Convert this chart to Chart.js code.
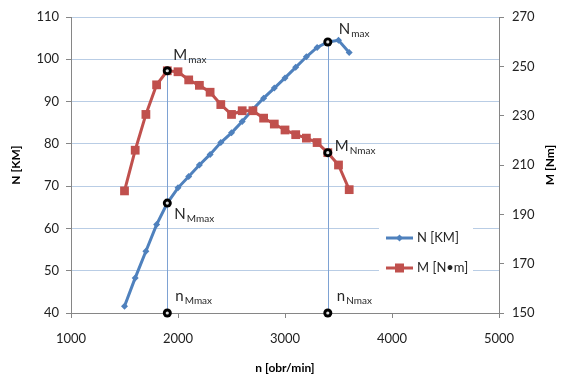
<!DOCTYPE html>
<html>
<head>
<meta charset="utf-8">
<script src="https://cdn.jsdelivr.net/npm/chart.js@4.4.1/dist/chart.umd.min.js"></script>
<style>
    html, body { margin: 0; padding: 0; background: #fff; }
    #wrap { width: 562px; height: 383px; }
</style>
</head>
<body>
<div id="wrap"><canvas id="chart" width="562" height="383"></canvas></div>
<script>
// engine speed [obr/min]
const rpm = [1500, 1600, 1700, 1800, 1900, 2000, 2100, 2200, 2300, 2400, 2500,
             2600, 2700, 2800, 2900, 3000, 3100, 3200, 3300, 3400, 3500, 3600];
// power N [KM]
const powerKM = [41.6, 48.3, 54.6, 60.9, 66.0, 69.6, 72.3, 75.0, 77.5, 80.3, 82.6,
                 85.3, 88.2, 90.8, 93.2, 95.6, 98.1, 100.6, 102.8, 104.1, 104.5, 101.6];
// torque M [Nm]
const torqueNm = [199.5, 216.0, 230.5, 242.5, 248.2, 247.8, 244.5, 242.3, 239.5, 234.5, 230.5,
                  232.0, 232.0, 229.0, 226.6, 224.2, 222.3, 220.9, 219.1, 215.0, 210.0, 200.0];

const xTicks = [1000, 2000, 3000, 4000, 5000];
const nTicks = [40, 50, 60, 70, 80, 90, 100, 110];
const mTicks = [150, 170, 190, 210, 230, 250, 270];

// characteristic speeds
const nMmax = 1900;
const nNmax = 3400;

const BLUE = '#4F81BD';
const RED = '#C0504D';
const AXIS = '#868686';
const GRID = '#B9CDE5';
const FONT = 'Lato';

/**
 * Draws a main letter with a subscript
 */
function subLabel(ctx, main, sub, x, y) {
    ctx.font = '15px ' + FONT;
    ctx.fillText(main, x, y);
    const w = ctx.measureText(main).width;
    ctx.font = '10px ' + FONT;
    ctx.fillText(sub, x + w + 1, y + 3);
}

function ring(ctx, x, y) {
    ctx.beginPath();
    ctx.arc(x, y, 4.5, 0, Math.PI * 2);
    ctx.fillStyle = '#000';
    ctx.fill();
    ctx.beginPath();
    ctx.arc(x, y, 1.6, 0, Math.PI * 2);
    ctx.fillStyle = '#ddd';
    ctx.fill();
}

const annotationPlugin = {
    id: 'annotations',
    beforeDatasetsDraw(chart) {
        const { ctx, chartArea, scales: { x, y, y2 } } = chart;
        const iM = rpm.indexOf(nMmax);
        const iN = rpm.indexOf(nNmax);
        ctx.save();
        ctx.strokeStyle = '#7EA2D3';
        ctx.lineWidth = 1;
        [[nMmax, y2.getPixelForValue(torqueNm[iM])], [nNmax, y.getPixelForValue(powerKM[iN])]].forEach(([n, top]) => {
            const px = Math.round(x.getPixelForValue(n)) + 0.5;
            ctx.beginPath();
            ctx.moveTo(px, chartArea.bottom);
            ctx.lineTo(px, top);
            ctx.stroke();
        });
        ctx.restore();
    },
    afterDatasetsDraw(chart) {
        const { ctx, chartArea, scales: { x, y, y2 } } = chart;
        const iM = rpm.indexOf(nMmax);
        const iN = rpm.indexOf(nNmax);
        const xm = x.getPixelForValue(nMmax);
        const xn = x.getPixelForValue(nNmax);
        const pts = [
            { px: xm, py: y2.getPixelForValue(torqueNm[iM]), main: 'M', sub: 'max', dx: 6, dy: -11 },
            { px: xm, py: y.getPixelForValue(powerKM[iM]), main: 'N', sub: 'Mmax', dx: 7, dy: 16 },
            { px: xm, py: y.getPixelForValue(nTicks[0]), main: 'n', sub: 'Mmax', dx: 8, dy: -12 },
            { px: xn, py: y.getPixelForValue(powerKM[iN]), main: 'N', sub: 'max', dx: 11, dy: -8 },
            { px: xn, py: y2.getPixelForValue(torqueNm[iN]), main: 'M', sub: 'Nmax', dx: 7, dy: -2 },
            { px: xn, py: y.getPixelForValue(nTicks[0]), main: 'n', sub: 'Nmax', dx: 9, dy: -12 }
        ];
        ctx.save();
        pts.forEach(p => ring(ctx, p.px, p.py));
        ctx.textBaseline = 'alphabetic';
        ctx.textAlign = 'left';
        pts.forEach(p => {
            ctx.fillStyle = '#262626';
            subLabel(ctx, p.main, p.sub, p.px + p.dx, p.py + p.dy);
        });

        // legend inside the plot area
        const r = chartArea.right;
        const b = chartArea.bottom;
        ctx.fillStyle = '#fff';
        ctx.fillRect(r - 120, b - 93, 94, 66);
        const entries = [
            { text: 'N [KM]', color: BLUE, ly: b - 75, shape: 'diamond' },
            { text: 'M [N\u2022m]', color: RED, ly: b - 45, shape: 'square' }
        ];
        entries.forEach(e => {
            ctx.strokeStyle = e.color;
            ctx.lineWidth = 3;
            ctx.beginPath();
            ctx.moveTo(r - 113, e.ly);
            ctx.lineTo(r - 86, e.ly);
            ctx.stroke();
            ctx.fillStyle = e.color;
            const cx = r - 99.5;
            if (e.shape === 'square') {
                ctx.fillRect(cx - 4.5, e.ly - 4.5, 9, 9);
            } else {
                ctx.beginPath();
                ctx.moveTo(cx, e.ly - 3.5);
                ctx.lineTo(cx + 3.5, e.ly);
                ctx.lineTo(cx, e.ly + 3.5);
                ctx.lineTo(cx - 3.5, e.ly);
                ctx.closePath();
                ctx.fill();
            }
            ctx.fillStyle = '#262626';
            ctx.font = '13px ' + FONT;
            ctx.textBaseline = 'middle';
            ctx.fillText(e.text, r - 82, e.ly);
        });

        // right axis title, reading bottom to top
        ctx.save();
        ctx.translate(550, (chartArea.top + chartArea.bottom) / 2);
        ctx.rotate(-Math.PI / 2);
        ctx.font = 'bold 12px ' + FONT;
        ctx.fillStyle = '#000';
        ctx.textAlign = 'center';
        ctx.textBaseline = 'middle';
        ctx.fillText('M [Nm]', 0, 0);
        ctx.restore();
        ctx.restore();
    }
};

const ctx = document.getElementById('chart').getContext('2d');

const chart = new Chart(ctx, {
    type: 'line',
    data: {
        datasets: [{
            label: 'N [KM]',
            data: rpm.map((n, i) => ({ x: n, y: powerKM[i] })),
            borderColor: BLUE,
            backgroundColor: BLUE,
            borderWidth: 3,
            pointStyle: 'rectRot',
            pointRadius: 3.5,
            pointBorderWidth: 0,
            yAxisID: 'y',
            order: 1
        }, {
            label: 'M [N\u2022m]',
            data: rpm.map((n, i) => ({ x: n, y: torqueNm[i] })),
            borderColor: RED,
            backgroundColor: RED,
            borderWidth: 3,
            pointStyle: 'rect',
            pointRadius: 6.2,
            pointBorderWidth: 0,
            yAxisID: 'y2',
            order: 0
        }]
    },
    options: {
        responsive: false,
        animation: false,
        layout: {
            padding: { top: 17, left: 0, right: 0, bottom: 0 }
        },
        elements: {
            line: { tension: 0 }
        },
        plugins: {
            legend: { display: false },
            tooltip: { enabled: false }
        },
        scales: {
            x: {
                type: 'linear',
                position: 'bottom',
                min: xTicks[0],
                max: xTicks[xTicks.length - 1],
                afterBuildTicks: scale => { scale.ticks = xTicks.map(v => ({ value: v })); },
                afterFit: scale => { scale.height = 70; },
                grid: {
                    drawOnChartArea: false,
                    tickLength: 5,
                    tickColor: AXIS
                },
                border: { color: AXIS },
                ticks: {
                    color: '#222',
                    padding: 13,
                    maxRotation: 0,
                    callback: v => String(v),
                    font: { family: FONT, size: 13 }
                },
                title: {
                    display: true,
                    text: 'n [obr/min]',
                    color: '#000',
                    padding: { top: 0, bottom: 8 },
                    font: { family: FONT, size: 12, weight: 'bold' }
                }
            },
            y: {
                position: 'left',
                min: nTicks[0],
                max: nTicks[nTicks.length - 1],
                afterBuildTicks: scale => { scale.ticks = nTicks.map(v => ({ value: v })); },
                afterFit: scale => { scale.width = 71; },
                grid: {
                    color: GRID,
                    tickLength: 5,
                    tickColor: AXIS
                },
                border: { color: AXIS },
                ticks: {
                    color: '#222',
                    padding: 7,
                    callback: v => String(v),
                    font: { family: FONT, size: 13 }
                },
                title: {
                    display: true,
                    text: 'N [KM]',
                    color: '#000',
                    padding: { top: 9, bottom: 0 },
                    font: { family: FONT, size: 12, weight: 'bold' }
                }
            },
            y2: {
                position: 'right',
                min: mTicks[0],
                max: mTicks[mTicks.length - 1],
                afterBuildTicks: scale => { scale.ticks = mTicks.map(v => ({ value: v })); },
                afterFit: scale => { scale.width = 63; },
                grid: {
                    drawOnChartArea: false,
                    tickLength: 5,
                    tickColor: AXIS
                },
                border: { color: AXIS },
                ticks: {
                    color: '#222',
                    padding: 8,
                    callback: v => String(v),
                    font: { family: FONT, size: 13 }
                }
            }
        }
    },
    plugins: [annotationPlugin]
});
</script>
</body>
</html>
